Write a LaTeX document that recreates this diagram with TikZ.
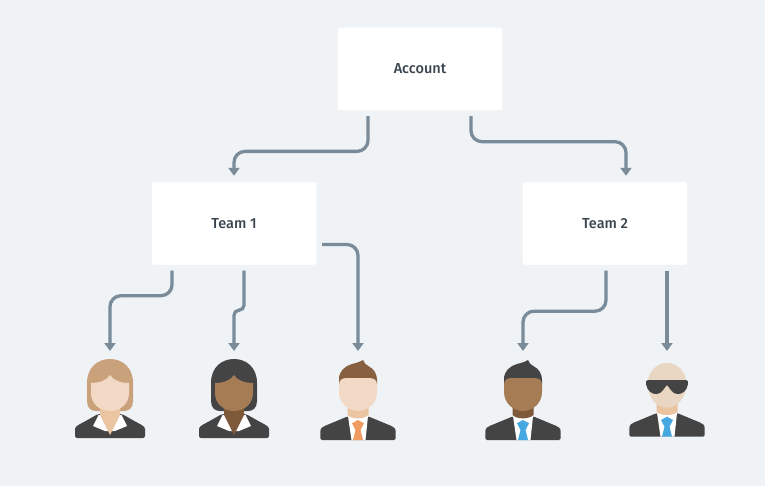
\documentclass[tikz,border=0pt]{standalone}
\usepackage{fontspec}
\setmainfont{Fira Sans Medium}
\usetikzlibrary{arrows.meta}
\definecolor{bgc}{HTML}{EFF3F6}
\definecolor{linkc}{HTML}{7A8B99}
\definecolor{textc}{HTML}{3A4550}
\definecolor{suitc}{HTML}{444444}
\definecolor{lightskin}{HTML}{F2D9C6}
\definecolor{lightneck}{HTML}{EBC4A2}
\definecolor{darkskin}{HTML}{A67C55}
\definecolor{darkneck}{HTML}{7F5A3A}
\definecolor{blondehair}{HTML}{C9A27C}
\definecolor{brownhair}{HTML}{87603F}
\definecolor{orangetie}{HTML}{EF9B62}
\definecolor{bluetie}{HTML}{45A8E0}
\definecolor{baldskin}{HTML}{E9D6C3}
\tikzset{
  box/.style={fill=white,draw=white!94!black!60!bgc,line width=.4pt,rounded corners=2pt,minimum width=165pt,minimum height=83pt,inner sep=0pt,text=textc,font=\fontsize{14.5}{16}\selectfont},
  link/.style={draw=linkc,line width=3.3pt,rounded corners=11pt,-{Triangle[width=11pt,length=8pt]}},
  tight/.style={link,rounded corners=5pt}
}
\newcommand{\personwoman}[4]{%
\begin{scope}[shift={(#1)}]
  \fill[suitc,rounded corners=2pt] (-35,79) -- (-35,72) .. controls (-35,68) and (-32,66) .. (-27,63.5) -- (-12,55) -- (12,55) -- (27,63.5) .. controls (32,66) and (35,68) .. (35,72) -- (35,79) -- cycle;
  \fill[#2] (-23,24) .. controls (-23,8) and (-12,0) .. (0,0) .. controls (12,0) and (23,8) .. (23,24) -- (23,42) .. controls (23,49) and (19,52) .. (14,52) -- (-14,52) .. controls (-19,52) and (-23,49) .. (-23,42) -- cycle;
  \fill[white] (-11.5,56) -- (-17,67) -- (-5,72) -- (0,72) -- (5,72) -- (17,67) -- (11.5,56) -- cycle;
  \fill[#4] (-10,45) -- (10,45) -- (10,56) -- (0,76) -- (-10,56) -- cycle;
  \fill[#3] (0,16) .. controls (3,21) and (10,24) .. (19,24) -- (19,34) .. controls (19,45) and (10,52) .. (0,52) .. controls (-10,52) and (-19,45) .. (-19,34) -- (-19,24) .. controls (-10,24) and (-3,21) .. (0,16) -- cycle;
\end{scope}}
\newcommand{\suitbody}[2]{%
  \fill[suitc,rounded corners=1.5pt] (-37.7,80) -- (-37.7,73) .. controls (-37.7,68) and (-35,66.5) .. (-31,65) -- (-10.5,56.5) -- (10.5,56.5) -- (31,65) .. controls (35,66.5) and (37.7,68) .. (37.7,73) -- (37.7,80) -- cycle;
  \fill[white] (-10,56) -- (10,56) -- (7.5,80) -- (-6.5,80) -- cycle;
  \fill[#2] (-10.5,40) -- (10.5,40) -- (10.5,55) .. controls (6,59.5) and (-6,59.5) .. (-10.5,55) -- cycle;
  \fill[#1] (0,60) -- (6,63.3) -- (2.5,70) -- (5,80) -- (-5,80) -- (-2.5,70) -- (-6,63.3) -- cycle;
}
\newcommand{\personman}[5]{%
\begin{scope}[shift={(#1)}]
  \suitbody{#5}{#4}
  \fill[#2] (-19,25) -- (-19,19) .. controls (-19,11) and (-13,6) .. (-6,4) .. controls (-2,3) and (2,2) .. (5,0) .. controls (6,3) and (8,5) .. (11,6.5) .. controls (16,9) and (19,14) .. (19,20) -- (19,25) -- cycle;
  \fill[#3] (-19,25) .. controls (-19,20) and (-16,18) .. (-11,18) -- (11,18) .. controls (16,18) and (19,20) .. (19,25) -- (19,32) .. controls (19,43) and (10,51) .. (0,51) .. controls (-10,51) and (-19,43) .. (-19,32) -- cycle;
\end{scope}}
\newcommand{\personguard}[1]{%
\begin{scope}[shift={(#1)}]
  \begin{scope}[shift={(0,-6.3)}]\suitbody{bluetie}{lightneck}\end{scope}
  \fill[baldskin] (0,0) .. controls (11,0) and (19.3,9) .. (19.3,21) .. controls (19.3,34) and (11,44.7) .. (0,44.7) .. controls (-11,44.7) and (-19.3,34) .. (-19.3,21) .. controls (-19.3,9) and (-11,0) .. (0,0) -- cycle;
  \fill[suitc] (-19,17) -- (19,17) .. controls (21,17) and (21.5,19) .. (21,21) .. controls (20,28) and (15,31.5) .. (10,31) .. controls (5,30.5) and (3,25) .. (0,22) .. controls (-3,25) and (-5,30.5) .. (-10,31) .. controls (-15,31.5) and (-20,28) .. (-21,21) .. controls (-21.5,19) and (-21,17) .. (-19,17) -- cycle;
\end{scope}}
\begin{document}
\begin{tikzpicture}[x=1pt,y=-1pt]
  \useasboundingbox (0,0) rectangle (765,486);
  \fill[bgc] (0,0) rectangle (765,486);
  \node[box] (acc) at (420,69) {Account};
  \node[box] (t1) at (234,223.5) {Team 1};
  \node[box] (t2) at (605,223.5) {Team 2};
  \coordinate (w1) at (110,359);
  \coordinate (w2) at (234,359);
  \coordinate (m1) at (358,360);
  \coordinate (m2) at (523,360);
  \coordinate (g1) at (667,363);
  \personwoman{w1}{blondehair}{lightskin}{lightneck}
  \personwoman{w2}{suitc}{darkskin}{darkneck}
  \personman{m1}{brownhair}{lightskin}{lightneck}{orangetie}
  \personman{m2}{suitc}{darkskin}{darkneck}{bluetie}
  \personguard{g1}
  \draw[link] ([xshift=-52pt,yshift=-5.5pt]acc.south) -- ++(0,35.2) -| ([yshift=6pt]t1.north);
  \draw[link] ([xshift=51pt,yshift=-5.5pt]acc.south) -- ++(0,25.5) -| ([xshift=21pt,yshift=6pt]t2.north);
  \draw[link] ([xshift=-62pt,yshift=-5.5pt]t1.south) -- ++(0,25) -| ([yshift=8pt]w1);
  \draw[tight] ([xshift=10pt,yshift=-5.5pt]t1.south) -- ++(0,39.5) -| ([yshift=8pt]w2);
  \draw[link] ([xshift=5.5pt,yshift=-21pt]t1.east) -| ([yshift=9pt]m1);
  \draw[link] ([xshift=1pt,yshift=-5.5pt]t2.south) -- ++(0,40.5) -| ([yshift=9pt]m2);
  \draw[link] ([xshift=62pt,yshift=-5.5pt]t2.south) -- ([yshift=12pt]g1);
\end{tikzpicture}
\end{document}
